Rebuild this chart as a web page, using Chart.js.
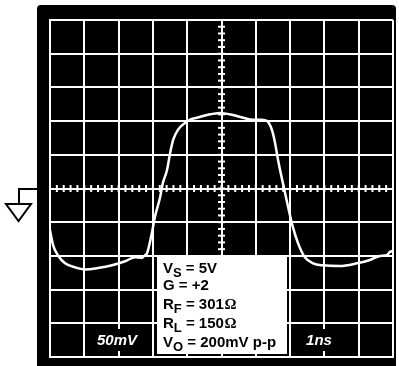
<!DOCTYPE html>
<html>
<head>
<meta charset="utf-8">
<script src="https://cdn.jsdelivr.net/npm/chart.js@4.4.1/dist/chart.umd.min.js"></script>
<style>
  html, body { margin: 0; padding: 0; background: #fff; }
  #wrap { width: 399px; height: 366px; position: relative; }
</style>
</head>
<body>
<div id="wrap"><canvas id="c" width="399" height="366"></canvas></div>
<script>
// Time axis (ns), 1 ns per division
const timeNs = [0.0, 0.09, 0.23, 0.44, 0.73, 1.02, 1.40, 1.81, 2.19, 2.48, 2.68, 2.77, 2.83,
  2.97, 3.06, 3.21, 3.29, 3.41, 3.50, 3.59, 3.73, 3.93, 4.07, 4.28, 4.58, 4.96, 5.33, 5.63,
  5.92, 6.18, 6.33, 6.47, 6.56, 6.65, 6.79, 6.94, 7.08, 7.23, 7.43, 7.67, 7.96, 8.45, 8.95,
  9.33, 9.62, 9.82, 9.91, 10.0];
// Output voltage (mV), 50 mV per division
const outputMv = [-62, -84, -99, -111, -117, -120, -118, -114, -108, -102, -103, -99, -96,
  -66, -42, -13, 8, 27, 52, 72, 87, 97, 102, 105, 109, 112, 109, 105,
  102, 102, 100, 87, 68, 42, 8, -27, -57, -81, -102, -111, -114, -115, -111,
  -106, -100, -99, -94, -93];
const xTicks = [0, 1, 2, 3, 4, 5, 6, 7, 8, 9, 10];
const yTicks = [-250, -200, -150, -100, -50, 0, 50, 100, 150, 200, 250];
const vLabel = "50mV";
const hLabel = "1ns";
// [main, subscript, rest, trailing symbol]
const infoLines = [
  ["V", "S", " = 5V", ""],
  ["G", "", " = +2", ""],
  ["R", "F", " = 301", "\u03A9"],
  ["R", "L", " = 150", "\u03A9"],
  ["V", "O", " = 200mV p-p", ""]
];

const FONT = '"Liberation Sans", Arial, Helvetica, sans-serif';
const SERIF = '"Liberation Serif", "Times New Roman", serif';

const scopePlugin = {
  id: 'scope',
  beforeDraw(chart) {
    const ctx = chart.ctx;
    ctx.save();
    ctx.fillStyle = '#fff';
    ctx.fillRect(0, 0, chart.width, chart.height);
    ctx.fillStyle = '#000';
    ctx.beginPath();
    if (ctx.roundRect) ctx.roundRect(37, 5, 359, 370, 4); else ctx.rect(37, 5, 359, 370);
    ctx.fill();
    // ground symbol
    ctx.strokeStyle = '#000';
    ctx.lineWidth = 2;
    ctx.beginPath();
    ctx.moveTo(38, 189);
    ctx.lineTo(19, 189);
    ctx.lineTo(19, 204);
    ctx.stroke();
    ctx.beginPath();
    ctx.moveTo(6, 204);
    ctx.lineTo(31, 204);
    ctx.lineTo(18.5, 221);
    ctx.closePath();
    ctx.stroke();
    ctx.restore();
  },
  beforeDatasetsDraw(chart) {
    const ctx = chart.ctx;
    const xs = chart.scales.x, ys = chart.scales.y;
    const cx = xs.getPixelForValue(5), cy = ys.getPixelForValue(0);
    ctx.save();
    ctx.fillStyle = '#fff';
    for (let i = 0; i <= 50; i++) {
      const px = xs.getPixelForValue(i * 0.2);
      ctx.fillRect(px - 1, cy - 3.5, 2, 7);
    }
    for (let i = 0; i <= 50; i++) {
      const py = ys.getPixelForValue(-250 + i * 10);
      ctx.fillRect(cx - 3.5, py - 1, 7, 2);
    }
    ctx.restore();
  },
  afterDatasetsDraw(chart) {
    const ctx = chart.ctx;
    ctx.save();
    ctx.fillStyle = '#000';
    ctx.fillRect(92, 329, 50, 22);
    ctx.fillRect(302, 329, 34, 22);
    ctx.fillStyle = '#fff';
    ctx.font = 'italic bold 15px ' + FONT;
    ctx.textBaseline = 'alphabetic';
    ctx.textAlign = 'center';
    ctx.fillText(vLabel, 117, 345);
    ctx.fillText(hLabel, 319, 345);
    // info box
    ctx.fillStyle = '#fff';
    ctx.fillRect(157, 255, 130, 99);
    ctx.fillStyle = '#000';
    ctx.textAlign = 'left';
    const baselines = [272.5, 289.5, 309, 327.5, 346.5];
    infoLines.forEach((ln, i) => {
      let x = 163;
      const b = baselines[i];
      ctx.font = 'bold 15px ' + FONT;
      ctx.fillText(ln[0], x, b);
      x += ctx.measureText(ln[0]).width;
      if (ln[1]) {
        ctx.font = 'bold 13px ' + FONT;
        ctx.fillText(ln[1], x, b + 4);
        x += ctx.measureText(ln[1]).width;
      }
      ctx.font = 'bold 15px ' + FONT;
      ctx.fillText(ln[2], x, b);
      x += ctx.measureText(ln[2]).width;
      if (ln[3]) {
        ctx.font = 'bold 15px ' + SERIF;
        ctx.fillText(ln[3], x + 0.5, b);
      }
    });
    ctx.restore();
  }
};

new Chart(document.getElementById('c'), {
  type: 'scatter',
  data: {
    datasets: [{
      data: timeNs.map((t, i) => ({ x: t, y: outputMv[i] })),
      showLine: true,
      borderColor: '#fff',
      borderWidth: 2.5,
      pointRadius: 0,
      cubicInterpolationMode: 'monotone',
      fill: false
    }]
  },
  options: {
    responsive: false,
    animation: false,
    events: [],
    layout: { padding: { left: 50, right: 6, top: 20, bottom: 9 } },
    plugins: { legend: { display: false }, tooltip: { enabled: false } },
    scales: {
      x: {
        type: 'linear', min: 0, max: 10,
        afterBuildTicks: s => { s.ticks = xTicks.map(v => ({ value: v })); },
        ticks: { display: false },
        grid: { color: '#fff', lineWidth: 2, drawTicks: false },
        border: { display: true, color: '#fff', width: 2 }
      },
      y: {
        type: 'linear', min: -250, max: 250,
        afterBuildTicks: s => { s.ticks = yTicks.map(v => ({ value: v })); },
        ticks: { display: false },
        grid: { color: '#fff', lineWidth: 2, drawTicks: false },
        border: { display: true, color: '#fff', width: 2 }
      }
    }
  },
  plugins: [scopePlugin]
});
</script>
</body>
</html>
